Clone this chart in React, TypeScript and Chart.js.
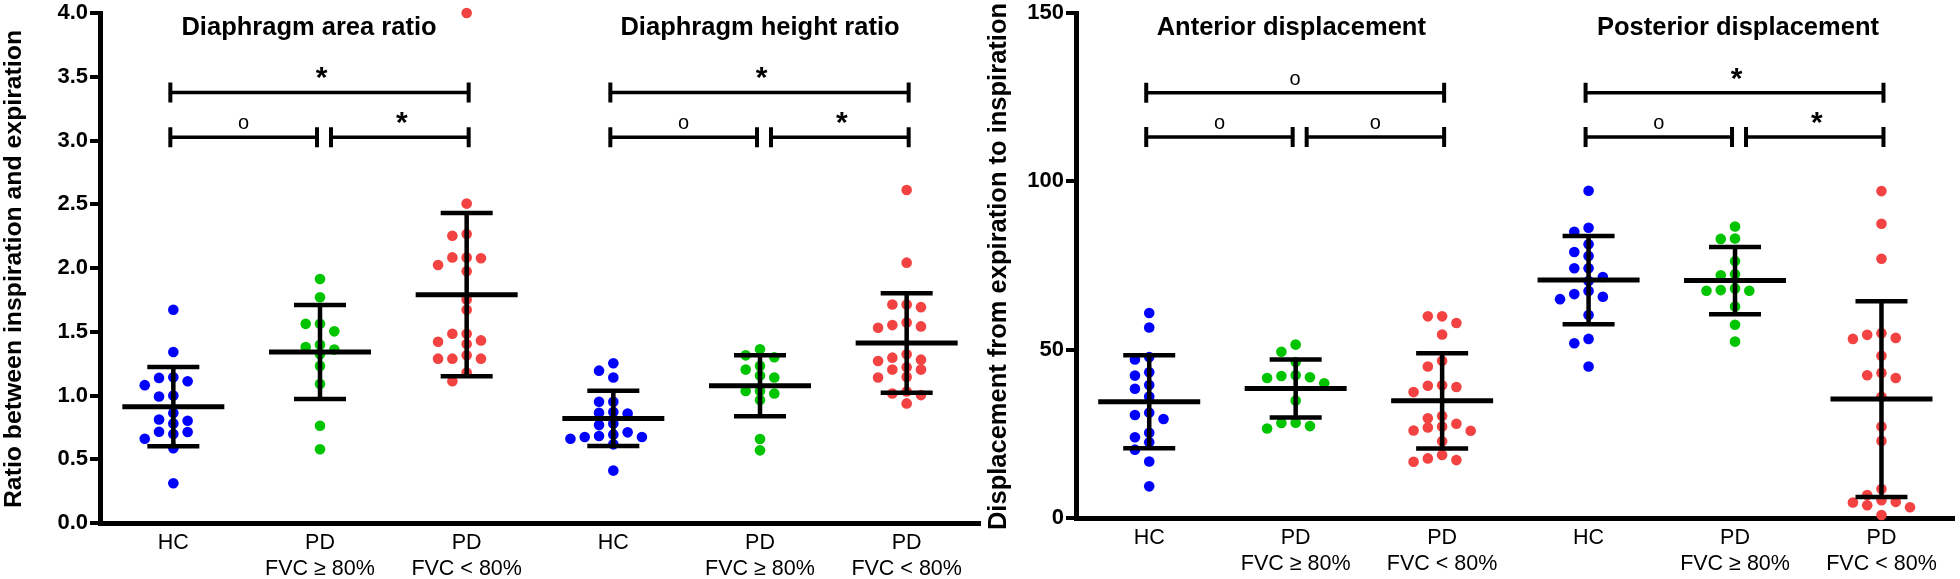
import React, { useEffect, useRef } from 'react';
import { Chart, registerables } from 'chart.js';

Chart.register(...registerables);

const FONT = '"Liberation Sans", Arial, Helvetica, sans-serif';

// ---------- categories / labels ----------
const categoryLabels: string[][] = [['HC'], ['PD', 'FVC ≥ 80%'], ['PD', 'FVC < 80%']];
const groupColors = ['rgb(0,0,255)', 'rgb(0,196,0)', 'rgb(242,66,66)'];

const leftTitles = ['Diaphragm area ratio', 'Diaphragm height ratio'];
const rightTitles = ['Anterior displacement', 'Posterior displacement'];
const leftYTitle = 'Ratio between inspiration and expiration';
const rightYTitle = 'Displacement from expiration to inspiration';

// ---------- left panel data (ratio) ----------
const areaRatioHC = [1.672, 1.341, 1.143, 1.138, 1.112, 1.081, 1.0, 0.992, 0.862, 0.812, 0.802, 0.781, 0.716, 0.714, 0.698, 0.661, 0.586, 0.312];
const areaRatioPDHigh = [1.914, 1.771, 1.562, 1.562, 1.503, 1.398, 1.38, 1.36, 1.323, 1.232, 1.091, 0.763, 0.578];
const areaRatioPDLow = [4.0, 2.505, 2.266, 2.253, 2.083, 2.076, 2.083, 2.023, 1.974, 1.753, 1.672, 1.484, 1.484, 1.422, 1.432, 1.404, 1.315, 1.289, 1.289, 1.289, 1.18, 1.112];

const heightRatioHC = [1.253, 1.195, 1.141, 0.951, 0.951, 0.87, 0.859, 0.865, 0.781, 0.768, 0.695, 0.674, 0.661, 0.674, 0.682, 0.711, 0.617, 0.411];
const heightRatioPDHigh = [1.362, 1.315, 1.3, 1.232, 1.203, 1.156, 1.141, 1.036, 1.016, 1.036, 0.964, 0.659, 0.57];
const heightRatioPDLow = [2.612, 2.042, 1.714, 1.693, 1.714, 1.573, 1.542, 1.531, 1.552, 1.323, 1.297, 1.271, 1.281, 1.203, 1.203, 1.221, 1.146, 1.141, 1.016, 1.003, 1.031, 0.938];

// ---------- right panel data (displacement) ----------
const anteriorHC = [60.9, 56.6, 47.8, 47.1, 43.3, 42.3, 39.5, 38.4, 36.1, 30.6, 31.3, 29.4, 25.3, 24.0, 22.5, 20.3, 16.8, 9.4];
const anteriorPDHigh = [51.5, 49.4, 46.3, 42.4, 41.8, 41.6, 42.2, 40.0, 34.9, 28.2, 27.3, 28.3, 26.6];
const anteriorPDLow = [59.9, 59.9, 57.9, 54.5, 46.7, 45.0, 39.4, 38.9, 39.3, 37.4, 29.6, 30.3, 26.9, 25.9, 27.2, 28.0, 26.0, 22.8, 17.7, 16.7, 17.2, 18.7];

const posteriorHC = [97.2, 86.2, 85.0, 81.3, 79.0, 77.8, 74.2, 74.2, 71.6, 70.4, 67.4, 65.7, 66.5, 65.0, 60.3, 53.2, 51.9, 45.0];
const posteriorPDHigh = [86.6, 82.9, 83.0, 76.3, 72.1, 72.4, 68.2, 67.5, 67.5, 67.7, 62.8, 57.4, 52.4];
const posteriorPDLow = [97.1, 87.4, 77.0, 54.9, 53.5, 53.2, 54.4, 48.2, 42.4, 41.6, 43.1, 36.0, 27.2, 22.9, 8.6, 6.8, 4.8, 3.8, 5.3, 3.2, 4.6, 0.9];

// ---------- axes ----------
const leftYMax = 4;
const leftYStep = 0.5;
const rightYMax = 150;
const rightYStep = 50;

// ---------- significance brackets ----------
const leftBrackets = [
  { from: 1, to: 3, y: 3.377, mark: '*' },
  { from: 1, to: 2, y: 3.026, mark: 'o' },
  { from: 2, to: 3, y: 3.026, mark: '*' },
  { from: 4, to: 6, y: 3.377, mark: '*' },
  { from: 4, to: 5, y: 3.026, mark: 'o' },
  { from: 5, to: 6, y: 3.026, mark: '*' },
];
const rightBrackets = [
  { from: 1, to: 3, y: 126.3, mark: 'o' },
  { from: 1, to: 2, y: 113.2, mark: 'o' },
  { from: 2, to: 3, y: 113.2, mark: 'o' },
  { from: 4, to: 6, y: 126.3, mark: '*' },
  { from: 4, to: 5, y: 113.2, mark: 'o' },
  { from: 5, to: 6, y: 113.2, mark: '*' },
];

type Bracket = { from: number; to: number; y: number; mark: string };

function swarmColumns(values: number[], thr: number): number[] {
  const idx = values.map((_, i) => i).sort((a, b) => values[b] - values[a]);
  const cols: Record<string, number[]> = {};
  const out = new Array(values.length).fill(0);
  const order = [0, -1, 1, -2, 2, -3, 3, -4, 4];
  for (const i of idx) {
    const v = values[i];
    for (const c of order) {
      const list = cols[c] || (cols[c] = []);
      if (list.every((u) => Math.abs(u - v) >= thr)) {
        list.push(v);
        out[i] = c;
        break;
      }
    }
  }
  return out;
}

function meanSd(values: number[]) {
  const n = values.length;
  const m = values.reduce((a, b) => a + b, 0) / n;
  const s = Math.sqrt(values.reduce((a, b) => a + (b - m) * (b - m), 0) / (n - 1));
  return { m, s };
}

type Panel = {
  groups: number[][];
  yMax: number;
  yStep: number;
  yDecimals: number;
  titles: string[];
  titleX: number[];
  yTitle: string;
  yTitleSize: number;
  brackets: Bracket[];
  yAxisWidth: number;
  padRight: number;
  xAxisHeight: number;
  plotHeightPx: number;
  yTitleBaselineX: number;
};

function makeOverlay(panel: Panel) {
  return {
    id: 'overlay',
    afterDatasetsDraw(chart: any) {
      const { ctx, chartArea } = chart;
      const x = chart.scales.x;
      const y = chart.scales.y;
      ctx.save();
      ctx.strokeStyle = '#000';
      ctx.fillStyle = '#000';
      ctx.lineCap = 'butt';

      // mean ± SD
      panel.groups.forEach((vals, g) => {
        const { m, s } = meanSd(vals);
        const px = x.getPixelForValue(g + 1);
        const ym = y.getPixelForValue(m);
        const yh = y.getPixelForValue(m + s);
        const yl = y.getPixelForValue(Math.max(m - s, 0));
        ctx.lineWidth = 4.5;
        ctx.beginPath();
        ctx.moveTo(px, yh);
        ctx.lineTo(px, yl);
        ctx.moveTo(px - 26, yh);
        ctx.lineTo(px + 26, yh);
        ctx.moveTo(px - 26, yl);
        ctx.lineTo(px + 26, yl);
        ctx.stroke();
        ctx.lineWidth = 5;
        ctx.beginPath();
        ctx.moveTo(px - 51, ym);
        ctx.lineTo(px + 51, ym);
        ctx.stroke();
      });

      // brackets
      panel.brackets.forEach((b) => {
        const yy = y.getPixelForValue(b.y);
        const sharedEnd = panel.brackets.some((o) => o !== b && o.y === b.y && o.from === b.to);
        const sharedStart = panel.brackets.some((o) => o !== b && o.y === b.y && o.to === b.from);
        const x1 = x.getPixelForValue(b.from) + (sharedStart ? 11 : -3);
        const x2 = x.getPixelForValue(b.to) + (sharedEnd ? -3 : 2);
        ctx.lineWidth = 3.5;
        ctx.beginPath();
        ctx.moveTo(x1, yy);
        ctx.lineTo(x2, yy);
        ctx.stroke();
        ctx.lineWidth = 4;
        ctx.beginPath();
        ctx.moveTo(x1, yy - 10);
        ctx.lineTo(x1, yy + 10);
        ctx.moveTo(x2, yy - 10);
        ctx.lineTo(x2, yy + 10);
        ctx.stroke();
        const cx = (x1 + x2) / 2;
        ctx.textAlign = 'center';
        ctx.textBaseline = 'alphabetic';
        if (b.mark === '*') {
          ctx.font = `bold 30px ${FONT}`;
          ctx.fillText('*', cx + 2, yy - 5);
        } else {
          ctx.font = `20px ${FONT}`;
          ctx.fillText('o', cx, yy - 8);
        }
      });

      // group titles
      ctx.font = `bold 25.5px ${FONT}`;
      ctx.textAlign = 'center';
      ctx.textBaseline = 'alphabetic';
      panel.titles.forEach((t, i) => {
        ctx.fillText(t, x.getPixelForValue(panel.titleX[i]), chartArea.top + 22);
      });

      // y-axis title
      ctx.font = `bold ${panel.yTitleSize}px ${FONT}`;
      ctx.translate(panel.yTitleBaselineX, (chartArea.top + chartArea.bottom) / 2 + 1);
      ctx.rotate(-Math.PI / 2);
      ctx.textAlign = 'center';
      ctx.textBaseline = 'alphabetic';
      ctx.fillText(panel.yTitle, 0, 0);
      ctx.restore();
    },
  };
}

function makeConfig(panel: Panel): any {
  const dx = 14.3 / (880 / 6);
  const thr = (9 * panel.yMax) / panel.plotHeightPx;
  const datasets = panel.groups.map((vals, g) => {
    const cols = swarmColumns(vals, thr);
    return {
      data: vals.map((v, i) => ({ x: g + 1 + cols[i] * dx, y: v })),
      backgroundColor: groupColors[g % 3],
      pointBackgroundColor: groupColors[g % 3],
      pointBorderWidth: 0,
      pointRadius: 5.3,
      pointHoverRadius: 5.3,
      clip: false,
    };
  });
  return {
    type: 'scatter',
    data: { datasets },
    options: {
      animation: false,
      responsive: false,
      events: [],
      layout: { padding: { left: 0, right: panel.padRight, top: 11, bottom: 0 } },
      plugins: { legend: { display: false }, tooltip: { enabled: false }, title: { display: false } },
      scales: {
        x: {
          type: 'linear',
          min: 0.5,
          max: 6.5,
          afterBuildTicks: (s: any) => {
            s.ticks = [1, 2, 3, 4, 5, 6].map((v) => ({ value: v }));
          },
          afterFit: (s: any) => {
            s.height = panel.xAxisHeight;
          },
          ticks: {
            autoSkip: false,
            maxRotation: 0,
            padding: 7,
            color: '#000',
            font: { family: FONT, size: 21.5, lineHeight: 1.22 },
            callback: (v: number) => categoryLabels[(Math.round(v) - 1) % 3],
          },
          grid: { display: false, drawTicks: false },
          border: { display: true, color: '#000', width: 5 },
        },
        y: {
          type: 'linear',
          min: 0,
          max: panel.yMax,
          afterFit: (s: any) => {
            s.width = panel.yAxisWidth;
          },
          ticks: {
            stepSize: panel.yStep,
            padding: 2,
            color: '#000',
            font: { family: FONT, size: 22, weight: 'bold', lineHeight: 1 },
            callback: (v: number) => v.toFixed(panel.yDecimals),
          },
          grid: { display: true, drawOnChartArea: false, drawTicks: true, tickLength: 10, color: '#000', lineWidth: 4 },
          border: { display: true, color: '#000', width: 5 },
        },
      },
    },
    plugins: [makeOverlay(panel)],
  };
}

const leftPanel: Panel = {
  groups: [areaRatioHC, areaRatioPDHigh, areaRatioPDLow, heightRatioHC, heightRatioPDHigh, heightRatioPDLow],
  yMax: leftYMax,
  yStep: leftYStep,
  yDecimals: 1,
  titles: leftTitles,
  titleX: [1.925, 5],
  yTitle: leftYTitle,
  yTitleSize: 24.8,
  brackets: leftBrackets,
  yAxisWidth: 100,
  padRight: 10,
  xAxisHeight: 56,
  plotHeightPx: 512,
  yTitleBaselineX: 21,
};

const rightPanel: Panel = {
  groups: [anteriorHC, anteriorPDHigh, anteriorPDLow, posteriorHC, posteriorPDHigh, posteriorPDLow],
  yMax: rightYMax,
  yStep: rightYStep,
  yDecimals: 0,
  titles: rightTitles,
  titleX: [1.97, 5.02],
  yTitle: rightYTitle,
  yTitleSize: 25.5,
  brackets: rightBrackets,
  yAxisWidth: 116,
  padRight: 3,
  xAxisHeight: 61,
  plotHeightPx: 507,
  yTitleBaselineX: 46,
};

export default function App() {
  const leftRef = useRef<HTMLCanvasElement | null>(null);
  const rightRef = useRef<HTMLCanvasElement | null>(null);

  useEffect(() => {
    document.body.style.margin = '0';
    const c1 = new Chart(leftRef.current as HTMLCanvasElement, makeConfig(leftPanel));
    const c2 = new Chart(rightRef.current as HTMLCanvasElement, makeConfig(rightPanel));
    return () => {
      c1.destroy();
      c2.destroy();
    };
  }, []);

  return (
    <div style={{ position: 'relative', width: 1960, height: 579, background: '#fff', overflow: 'hidden' }}>
      <canvas ref={leftRef} width={990} height={579} style={{ position: 'absolute', left: 0, top: 0, width: 990, height: 579 }} />
      <canvas ref={rightRef} width={1000} height={579} style={{ position: 'absolute', left: 960, top: 0, width: 1000, height: 579 }} />
    </div>
  );
}
